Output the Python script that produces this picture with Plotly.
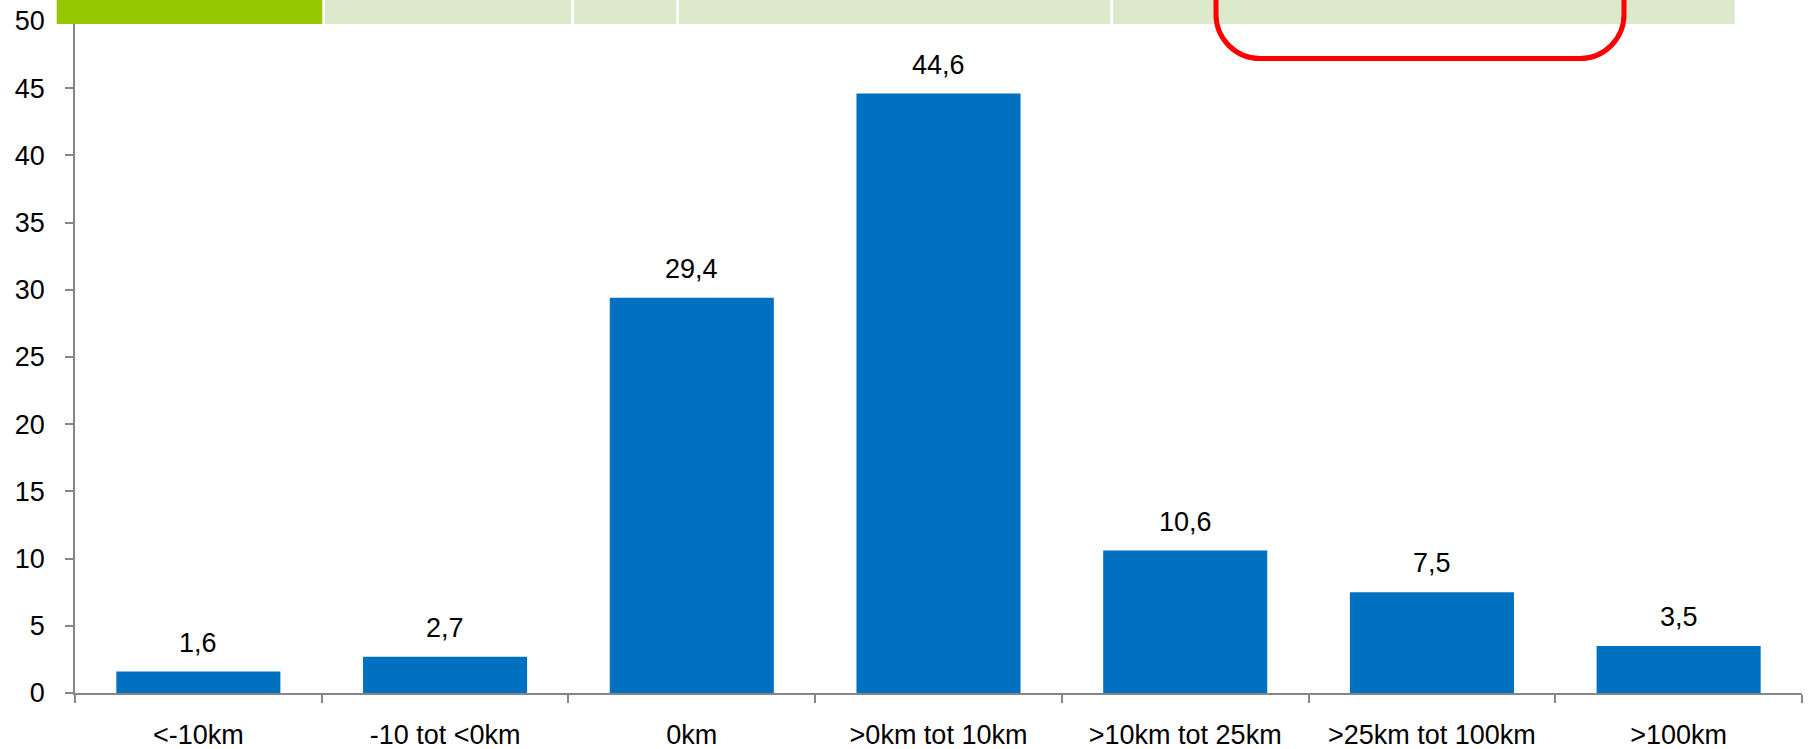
import plotly.graph_objects as go

categories = ["<-10km", "-10 tot <0km", "0km", ">0km tot 10km", ">10km tot 25km", ">25km tot 100km", ">100km"]
values = [1.6, 2.7, 29.4, 44.6, 10.6, 7.5, 3.5]
y_ticks = [0, 5, 10, 15, 20, 25, 30, 35, 40, 45, 50]

W, H = 1810, 749
ML, MR, MT, MB = 75, 8, 21, 56
PW = W - ML - MR
PH = H - MT - MB
FONT = "Liberation Sans, Arial, sans-serif"
FS = 27
AXC = "#868686"


def px(x):
    return (x - ML) / PW


def py(y):
    return (H - MB - y) / PH


fig = go.Figure()
fig.add_trace(go.Bar(
    x=categories, y=values,
    marker=dict(color="#0070C0", line=dict(width=0)),
    hoverinfo="skip",
))

for c, v in zip(categories, values):
    fig.add_annotation(
        x=c, y=v, xref="x", yref="y",
        text=f"{v:.1f}".replace(".", ","),
        showarrow=False, yanchor="middle", yshift=29,
        font=dict(family=FONT, size=FS, color="#000000"),
    )

shapes = []
# top strip (decorative header)
strip = [(56.7, 322.3, "#95C800"), (325, 571, "#DDE9CB"), (574, 676.3, "#DDE9CB"),
         (679, 1110.3, "#DDE9CB"), (1113, 1734.7, "#DDE9CB")]
for x0, x1, col in strip:
    shapes.append(dict(type="rect", xref="paper", yref="paper",
                       x0=px(x0), x1=px(x1), y0=py(24), y1=py(-5),
                       fillcolor=col, line=dict(width=0), layer="above"))

# red rounded bracket
L, R, B, T, r = 1216, 1624, 58.5, -10, 44
k = 0.5523 * r
path = (f"M {px(L)},{py(T)} L {px(L)},{py(B - r)} "
        f"C {px(L)},{py(B - r + k)} {px(L + r - k)},{py(B)} {px(L + r)},{py(B)} "
        f"L {px(R - r)},{py(B)} "
        f"C {px(R - r + k)},{py(B)} {px(R)},{py(B - r + k)} {px(R)},{py(B - r)} "
        f"L {px(R)},{py(T)}")
shapes.append(dict(type="path", xref="paper", yref="paper", path=path,
                   line=dict(color="#FF0000", width=5), layer="above"))

fig.update_layout(
    width=W, height=H,
    margin=dict(l=ML, r=MR, t=MT, b=MB, autoexpand=False),
    paper_bgcolor="white", plot_bgcolor="white",
    bargap=0.335,
    showlegend=False,
    shapes=shapes,
    font=dict(family=FONT, size=FS, color="#000000"),
    xaxis=dict(
        type="category", showgrid=False, zeroline=False, automargin=False,
        showline=True, linecolor=AXC, linewidth=2,
        ticks="outside", tickson="boundaries", ticklen=8, tickcolor=AXC, tickwidth=1.5,
        tickfont=dict(family=FONT, size=FS, color="#000000"),
        ticklabelstandoff=17,
    ),
    yaxis=dict(
        range=[0, 50], tickvals=y_ticks, showgrid=False, zeroline=False, automargin=False,
        showline=True, linecolor=AXC, linewidth=1.5,
        ticks="outside", ticklen=8, tickcolor=AXC, tickwidth=1.5,
        tickfont=dict(family=FONT, size=FS, color="#000000"),
        ticklabelstandoff=15,
    ),
)

fig.write_html(
    "out.html",
    config={"displayModeBar": False},
    post_script="document.body.style.margin='0';document.body.style.overflow='hidden';",
)
